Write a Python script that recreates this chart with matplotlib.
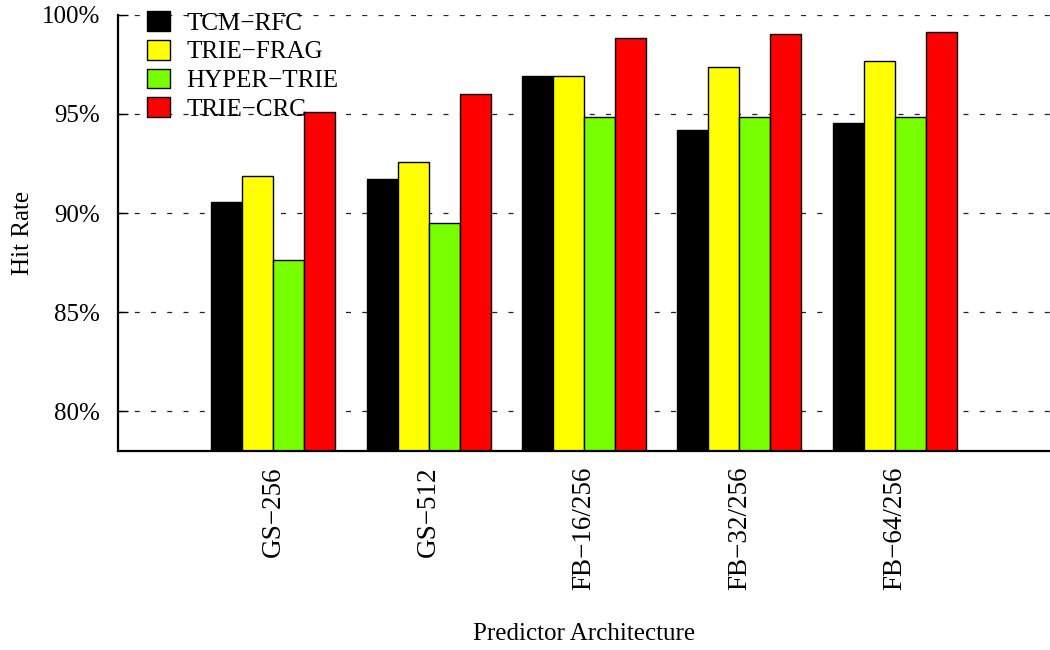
import matplotlib
matplotlib.use("Agg")
import matplotlib.pyplot as plt
import numpy as np

# Predictor configurations and hit rates (%) for each scheme
architectures = ["GS\u2212256", "GS\u2212512", "FB\u221216/256", "FB\u221232/256", "FB\u221264/256"]
schemes = ["TCM\u2212RFC", "TRIE\u2212FRAG", "HYPER\u2212TRIE", "TRIE\u2212CRC"]
tcm_rfc = [90.58, 91.72, 96.93, 94.19, 94.56]
trie_frag = [91.89, 92.59, 96.91, 97.37, 97.68]
hyper_trie = [87.64, 89.52, 94.86, 94.86, 94.86]
trie_crc = [95.11, 96.00, 98.83, 99.03, 99.14]
yticks = [80, 85, 90, 95, 100]

series = [tcm_rfc, trie_frag, hyper_trie, trie_crc]
colors = ["#000000", "#ffff00", "#77ff00", "#ff0000"]

plt.rcParams["font.family"] = ["Liberation Serif", "DejaVu Serif"]
FS = 18

fig = plt.figure(figsize=(10.5, 6.5), dpi=100)
ax = fig.add_axes([118 / 1050, 1 - 451 / 650, 1 - 118 / 1050, (451 - 14.7) / 650])

x = np.arange(len(architectures))
width = 0.2
handles = []
for k, (vals, col) in enumerate(zip(series, colors)):
    bars = ax.bar(x + (k - 1.5) * width, vals, width, bottom=0,
                  color=col, edgecolor="black", linewidth=1.0, zorder=3,
                  label=schemes[k])
    handles.append(bars)

ax.set_ylim(78, 100)
ax.set_xlim(-1, len(architectures))
ax.set_yticks(yticks)
ax.set_yticklabels([f"{v}%" for v in yticks], fontsize=FS)
ax.set_xticks(x)
ax.set_xticklabels(architectures, rotation=90, fontsize=19.5, va="top", ha="center")

ax.tick_params(axis="y", direction="in", length=7, width=1.0, pad=13)
ax.tick_params(axis="x", length=0, pad=11)

ax.yaxis.grid(True, color="#222222", linewidth=0.9, linestyle=(0, (4, 9)), zorder=1)
ax.set_axisbelow(True)

for s in ["top", "right"]:
    ax.spines[s].set_visible(False)
for s in ["left", "bottom"]:
    ax.spines[s].set_linewidth(1.6)
    ax.spines[s].set_zorder(4)

ax.set_ylabel("Hit Rate", fontsize=FS, labelpad=5.5)
ax.set_xlabel("Predictor Architecture", fontsize=FS, labelpad=24)

leg = ax.legend(handles=handles, loc="upper left",
                bbox_to_anchor=(147 / 1050, 1 - 11 / 650), bbox_transform=fig.transFigure,
                frameon=False, fontsize=FS, borderpad=0, borderaxespad=0,
                handlelength=0.92, handleheight=0.84, handletextpad=0.66,
                labelspacing=0.21)
leg.set_zorder(5)

fig.savefig("out.png", dpi=100)
